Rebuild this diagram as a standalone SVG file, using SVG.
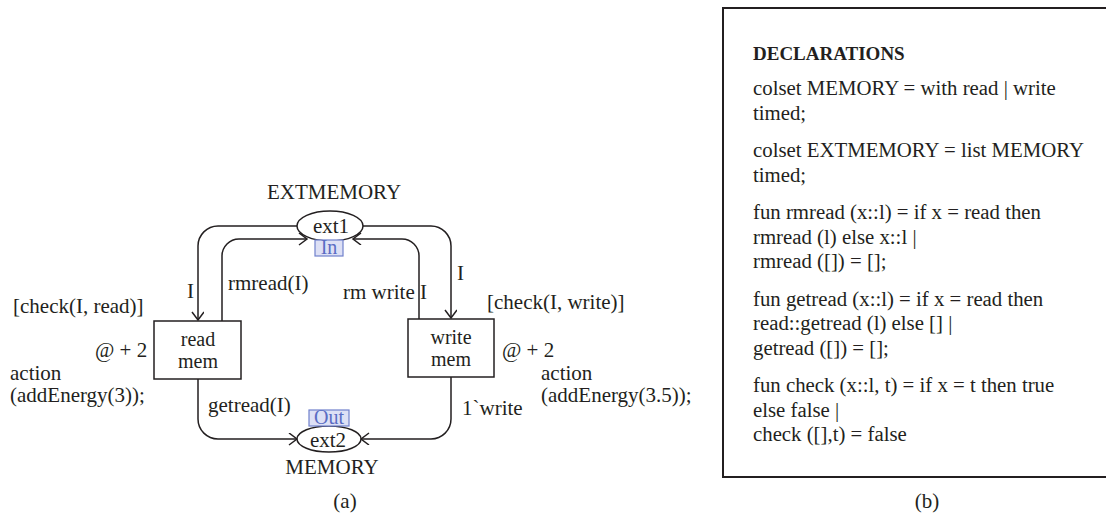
<svg xmlns="http://www.w3.org/2000/svg" width="1106" height="522" viewBox="0 0 1106 522">
  <style>
    text { font-family: "Liberation Serif", "Times New Roman", serif; font-size: 21px; fill: #231f20; }
    .mid { text-anchor: middle; }
    .node { font-size: 20px; text-anchor: middle; }
    .decl { font-size: 20.8px; }
    .bold { font-weight: bold; font-size: 19px; }
    .port { fill: #dde0f5; stroke: #7080cc; stroke-width: 1.2; }
    .porttxt { fill: #5a6cc4; text-anchor: middle; font-size: 20px; }
    .shape { fill: #ffffff; stroke: #231f20; stroke-width: 1.5; }
    .arc { fill: none; stroke: #231f20; stroke-width: 1.5; }
  </style>
  <defs>
    <marker id="open" markerUnits="userSpaceOnUse" markerWidth="12" markerHeight="14" refX="9" refY="6" orient="auto">
      <path d="M1,0 L9,6 L1,12" fill="none" stroke="#231f20" stroke-width="1.5"/>
    </marker>
  </defs>

  <!-- arcs between places and transitions -->
  <g id="connectors">
    <path class="arc" d="M297,226 H218 A20,20 0 0 0 198,246 V320" marker-end="url(#open)"/>
    <path class="arc" d="M222,321 V256 A17,17 0 0 1 239,239 H307" marker-end="url(#open)"/>
    <path class="arc" d="M363,226 H431 A20,20 0 0 1 451,246 V318" marker-end="url(#open)"/>
    <path class="arc" d="M419,319 V256 A17,17 0 0 0 402,239 H353" marker-end="url(#open)"/>
    <path class="arc" d="M198,379 V419 A20,20 0 0 0 218,439 H297" marker-end="url(#open)"/>
    <path class="arc" d="M451,377 V419 A20,20 0 0 1 431,439 H361" marker-end="url(#open)"/>
    <text x="187" y="298">I</text>
    <text x="228" y="290">rmread(I)</text>
    <text x="343" y="299">rm write I</text>
    <text x="457" y="280">I</text>
    <text x="208" y="412">getread(I)</text>
    <text x="462" y="415">1`write</text>
  </g>

  <!-- input place -->
  <g id="ext1">
    <text class="mid" x="334" y="199">EXTMEMORY</text>
    <ellipse class="shape" cx="330" cy="226" rx="33" ry="15"/>
    <text class="mid" x="331" y="233">ext1</text>
    <rect class="port" x="315" y="240" width="28" height="16"/>
    <text class="porttxt" x="329" y="254">In</text>
  </g>

  <!-- output place -->
  <g id="ext2">
    <ellipse class="shape" cx="329" cy="439" rx="32" ry="13"/>
    <text class="mid" x="328" y="447" font-size="20">ext2</text>
    <rect class="port" x="309" y="410" width="40" height="16"/>
    <text class="porttxt" x="329" y="424">Out</text>
    <text class="mid" x="332" y="474">MEMORY</text>
  </g>

  <!-- transition: read mem -->
  <g id="readmem">
    <rect class="shape" x="154" y="321" width="87" height="58"/>
    <text class="node" x="198" y="346">read</text>
    <text class="node" x="198" y="368">mem</text>
    <text x="13" y="313">[check(I, read)]</text>
    <text x="95" y="357">@ + 2</text>
    <text x="10" y="380">action</text>
    <text x="10" y="402">(addEnergy(3));</text>
  </g>

  <!-- transition: write mem -->
  <g id="writemem">
    <rect class="shape" x="408" y="319" width="86" height="58"/>
    <text class="node" x="451" y="344">write</text>
    <text class="node" x="451" y="366">mem</text>
    <text x="487" y="309">[check(I, write)]</text>
    <text x="502" y="357">@ + 2</text>
    <text x="541" y="380">action</text>
    <text x="541" y="402">(addEnergy(3.5));</text>
  </g>

  <text class="mid" x="345" y="508">(a)</text>

  <!-- declarations panel -->
  <g id="declarations">
    <rect x="723" y="8" width="400" height="469" fill="none" stroke="#231f20" stroke-width="2"/>
    <text class="bold" x="753" y="60">DECLARATIONS</text>
    <text class="decl" x="753" y="95">colset MEMORY = with read | write</text>
    <text class="decl" x="753" y="119.5">timed;</text>
    <text class="decl" x="753" y="157">colset EXTMEMORY = list MEMORY</text>
    <text class="decl" x="753" y="181.5">timed;</text>
    <text class="decl" x="753" y="219">fun rmread (x::l) = if x = read then</text>
    <text class="decl" x="753" y="243.5">rmread (l) else x::l |</text>
    <text class="decl" x="753" y="268">rmread ([]) = [];</text>
    <text class="decl" x="753" y="305.5">fun getread (x::l) = if x = read then</text>
    <text class="decl" x="753" y="330">read::getread (l) else [] |</text>
    <text class="decl" x="753" y="354.5">getread ([]) = [];</text>
    <text class="decl" x="753" y="392">fun check (x::l, t) = if x = t then true</text>
    <text class="decl" x="753" y="416.5">else false |</text>
    <text class="decl" x="753" y="441">check ([],t) = false</text>
  </g>

  <text class="mid" x="927" y="508">(b)</text>
</svg>
